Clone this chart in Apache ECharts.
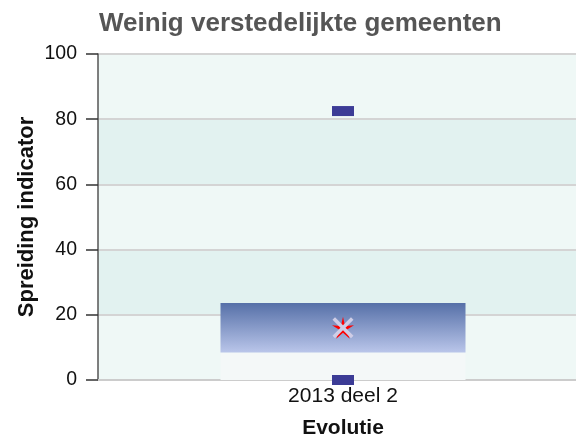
<!DOCTYPE html>
<html>
<head>
<meta charset="utf-8">
<script src="https://cdn.jsdelivr.net/npm/echarts@6/dist/echarts.min.js"></script>
<style>
  html, body { margin: 0; padding: 0; background: #ffffff; }
  #chart { width: 576px; height: 436px; }
</style>
</head>
<body>
<div id="chart"></div>
<script>
  // Spreiding per categorie
  var categories = ['2013 deel 2'];
  var minValues = [0];
  var q1Values = [8.4];
  var q3Values = [23.6];
  var maxValues = [82.5];
  var meanValues = [16];
  var yTicks = [0, 20, 40, 60, 80, 100];

  var starPath = 'path://M50 0 L58.8 37.9 L97.6 34.5 L64.3 54.6 L79.4 90.5 L50 65 L20.6 90.5 L35.7 54.6 L2.4 34.5 L41.2 37.9 Z';
  var crossPath = 'path://M12 0 L50 38 L88 0 L100 12 L62 50 L100 88 L88 100 L50 62 L12 100 L0 88 L38 50 L0 12 Z';

  var chart = echarts.init(document.getElementById('chart'), null, { renderer: 'canvas' });

  var fontFam = 'Liberation Sans, Arial, sans-serif';

  chart.setOption({
    animation: false,
    backgroundColor: '#ffffff',
    title: {
      text: 'Weinig verstedelijkte gemeenten',
      left: 94,
      top: 6,
      textStyle: { fontFamily: fontFam, fontSize: 26, fontWeight: 'bold', color: '#555555' }
    },
    grid: { left: 98, right: -12, top: 54, bottom: 56, outerBoundsMode: 'none', containLabel: false },
    xAxis: {
      type: 'category',
      data: categories,
      name: 'Evolutie',
      nameLocation: 'middle',
      nameGap: 38,
      nameMoveOverlap: false,
      nameTextStyle: { fontFamily: fontFam, fontSize: 21, fontWeight: 'bold', color: '#111' },
      axisLine: { lineStyle: { color: '#cccccc', width: 2 } },
      axisTick: { show: false },
      axisLabel: { fontFamily: fontFam, fontSize: 21, color: '#111', margin: 6 },
      splitLine: { show: false }
    },
    yAxis: {
      type: 'value',
      min: yTicks[0],
      max: yTicks[yTicks.length - 1],
      interval: 20,
      name: 'Spreiding indicator',
      nameLocation: 'middle',
      nameGap: 60,
      nameMoveOverlap: false,
      nameRotate: 90,
      nameTextStyle: { fontFamily: fontFam, fontSize: 22, fontWeight: 'bold', color: '#111' },
      axisLine: { show: true, lineStyle: { color: '#555555', width: 1.5 } },
      axisTick: { show: true, length: 12, lineStyle: { color: '#333333', width: 1.5 } },
      axisLabel: { fontFamily: fontFam, fontSize: 19.5, color: '#111', margin: 21 },
      splitLine: { lineStyle: { color: '#d4d4d4', width: 2 } },
      splitArea: { show: true, areaStyle: { color: ['#eff8f6', '#e2f2f0'] } }
    },
    series: [
      {
        type: 'bar',
        stack: 'box',
        barWidth: 245,
        data: q1Values,
        itemStyle: { color: '#f4f8f8' },
        silent: true
      },
      {
        type: 'bar',
        stack: 'box',
        barWidth: 245,
        data: q3Values.map(function (v, i) { return v - q1Values[i]; }),
        itemStyle: {
          color: {
            type: 'linear', x: 0, y: 0, x2: 0, y2: 1,
            colorStops: [
              { offset: 0, color: '#5670a8' },
              { offset: 1, color: '#bac6ea' }
            ]
          }
        }
      },
      {
        type: 'scatter',
        symbol: 'rect',
        symbolSize: [22, 10],
        data: minValues.map(function (v, i) { return [categories[i], v]; }).concat(
              maxValues.map(function (v, i) { return [categories[i], v]; })),
        itemStyle: { color: '#3c3c96', opacity: 1 },
        z: 5
      },
      {
        type: 'scatter',
        symbol: starPath,
        symbolSize: 22,
        data: meanValues.map(function (v, i) { return [categories[i], v]; }),
        itemStyle: { color: '#ff0000', opacity: 1 },
        z: 6
      },
      {
        type: 'scatter',
        symbol: crossPath,
        symbolSize: 21,
        data: meanValues.map(function (v, i) { return [categories[i], v]; }),
        itemStyle: { color: '#cfcde6', opacity: 1 },
        z: 7
      }
    ]
  });
</script>
</body>
</html>
